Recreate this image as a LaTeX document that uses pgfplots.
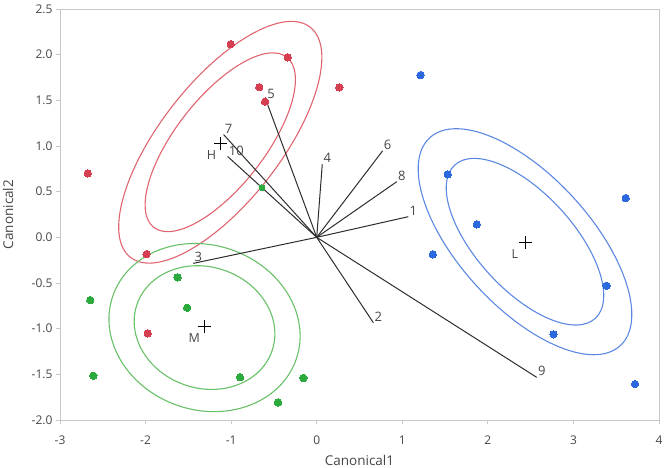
\documentclass[border=0pt]{standalone}
\usepackage{fontspec}
\setmainfont{Open Sans}
\usepackage{pgfplots}
\pgfplotsset{compat=1.18}
\pgfdeclarelayer{background}
\pgfsetlayers{background,main}
\definecolor{redpt}{RGB}{214,62,82}
\definecolor{redln}{RGB}{224,100,112}
\definecolor{grnpt}{RGB}{44,170,62}
\definecolor{grnln}{RGB}{104,192,104}
\definecolor{blupt}{RGB}{44,104,222}
\definecolor{bluln}{RGB}{92,136,226}
\definecolor{axgray}{RGB}{200,200,200}
\definecolor{labgray}{RGB}{70,70,70}
\definecolor{raycol}{RGB}{45,45,45}
\tikzset{raylab/.style={anchor=south west, inner sep=0.8pt, text=labgray, font=\fontsize{13}{15}\selectfont}}
\pgfplotsset{ray/.style={draw=raycol, line width=1pt, forget plot}}
\begin{document}
\begin{tikzpicture}
\begin{axis}[
  scale only axis, width=599pt, height=411pt,
  xmin=-3, xmax=4, ymin=-2, ymax=2.5,
  xtick={-3,-2,-1,0,1,2,3,4},
  ytick={-2,-1.5,-1,-0.5,0,0.5,1,1.5,2,2.5},
  tick pos=left, tick align=outside, major tick length=4pt,
  axis line style={draw=axgray, line width=0.9pt},
  every tick/.style={draw=axgray, line width=0.9pt},
  /pgf/number format/assume math mode=true,
  ticklabel style={font=\fontsize{12}{14}\selectfont, text=labgray},
  yticklabel style={/pgf/number format/.cd, fixed, fixed zerofill, precision=1},
  xticklabel style={yshift=-8pt, /pgf/number format/.cd, fixed, precision=0},
  xlabel={Canonical1}, ylabel={Canonical2},
  every axis x label/.style={at={(axis description cs:0.5,0)}, anchor=center, yshift=-40pt, font=\fontsize{13.5}{15}\selectfont, text=labgray},
  every axis y label/.style={at={(axis description cs:0,0.5)}, rotate=90, anchor=center, yshift=52pt, font=\fontsize{13.5}{15}\selectfont, text=labgray},
  clip=true,
]
% rays
\addplot[ray] coordinates {(0,0) (1.07,0.226)} node[raylab, pos=1] {1};
\addplot[ray] coordinates {(0,0) (0.662,-0.935)} node[raylab, pos=1] {2};
\addplot[ray] coordinates {(0,0) (-1.442,-0.285)} node[raylab, pos=1] {3};
\addplot[ray] coordinates {(0,0) (0.065,0.80)} node[raylab, pos=1] {4};
\addplot[ray] coordinates {(0,0) (-0.593,1.503)} node[raylab, pos=1] {5};
\addplot[ray] coordinates {(0,0) (0.771,0.948)} node[raylab, pos=1] {6};
\addplot[ray] coordinates {(0,0) (-1.088,1.125)} node[raylab, pos=1] {7};
\addplot[ray] coordinates {(0,0) (0.935,0.609)} node[raylab, pos=1] {8};
\addplot[ray] coordinates {(0,0) (2.571,-1.533)} node[raylab, pos=1] {9};
\addplot[ray] coordinates {(0,0) (-1.041,0.885)} node[raylab, pos=1] {10};
% points
\addplot[only marks, color=redpt, mark=*, mark size=3.7pt, mark options={draw=redpt, fill=redpt, line width=0pt}] coordinates {
(-1.005,2.115) (-0.339,1.971) (-0.671,1.644) (-0.604,1.485) (0.264,1.642) (-2.676,0.70) (-1.987,-0.183) (-1.975,-1.051)};
\addplot[only marks, color=grnpt, mark=*, mark size=3.7pt, mark options={draw=grnpt, fill=grnpt, line width=0pt}] coordinates {
(-1.626,-0.438) (-2.646,-0.687) (-1.514,-0.771) (-2.61,-1.515) (-0.896,-1.532) (-0.156,-1.54) (-0.452,-1.809)};
\addplot[only marks, color=grnpt, mark=*, mark size=2.9pt, mark options={draw=grnpt, fill=grnpt, line width=0pt}] coordinates {(-0.64,0.545)};
\addplot[only marks, color=blupt, mark=*, mark size=3.7pt, mark options={draw=blupt, fill=blupt, line width=0pt}] coordinates {
(1.215,1.777) (1.531,0.69) (1.871,0.142) (1.357,-0.186) (3.611,0.43) (3.387,-0.53) (2.767,-1.062) (3.72,-1.606)};
% group means
\addplot[only marks, color=black, mark=+, mark size=6.5pt, mark options={draw=black, line width=1.5pt}] coordinates {
(-1.122,1.029) (2.442,-0.055) (-1.313,-0.979)};
\node[text=labgray, font=\fontsize{12.5}{14}\selectfont] at (axis cs:-1.229,0.901) {H};
\node[text=labgray, font=\fontsize{12.5}{14}\selectfont] at (axis cs:2.317,-0.186) {L};
\node[text=labgray, font=\fontsize{12.5}{14}\selectfont] at (axis cs:-1.43,-1.106) {M};
\coordinate (cR) at (axis cs:-1.127,1.041);
\coordinate (cG) at (axis cs:-1.311,-0.988);
\coordinate (cB) at (axis cs:2.434,-0.048);
\end{axis}
\begin{pgfonlayer}{background}
\draw[redln, line width=1.1pt] (cR) ellipse [x radius=146pt, y radius=60pt, rotate=52];
\draw[redln, line width=1.1pt] (cR) ellipse [x radius=108pt, y radius=44.4pt, rotate=52];
\draw[grnln, line width=1.1pt] (cG) ellipse [x radius=97pt, y radius=82.4pt, rotate=-19];
\draw[grnln, line width=1.1pt] (cG) ellipse [x radius=71.4pt, y radius=60.6pt, rotate=-19];
\draw[bluln, line width=1.1pt] (cB) ellipse [x radius=141pt, y radius=65.5pt, rotate=-47.5];
\draw[bluln, line width=1.1pt] (cB) ellipse [x radius=104pt, y radius=48.2pt, rotate=-47.5];
\end{pgfonlayer}
\pgfresetboundingbox
\path[use as bounding box] ([shift={(-60pt,-48pt)}]current axis.south west) rectangle ([shift={(7pt,9pt)}]current axis.north east);
\end{tikzpicture}
\end{document}
